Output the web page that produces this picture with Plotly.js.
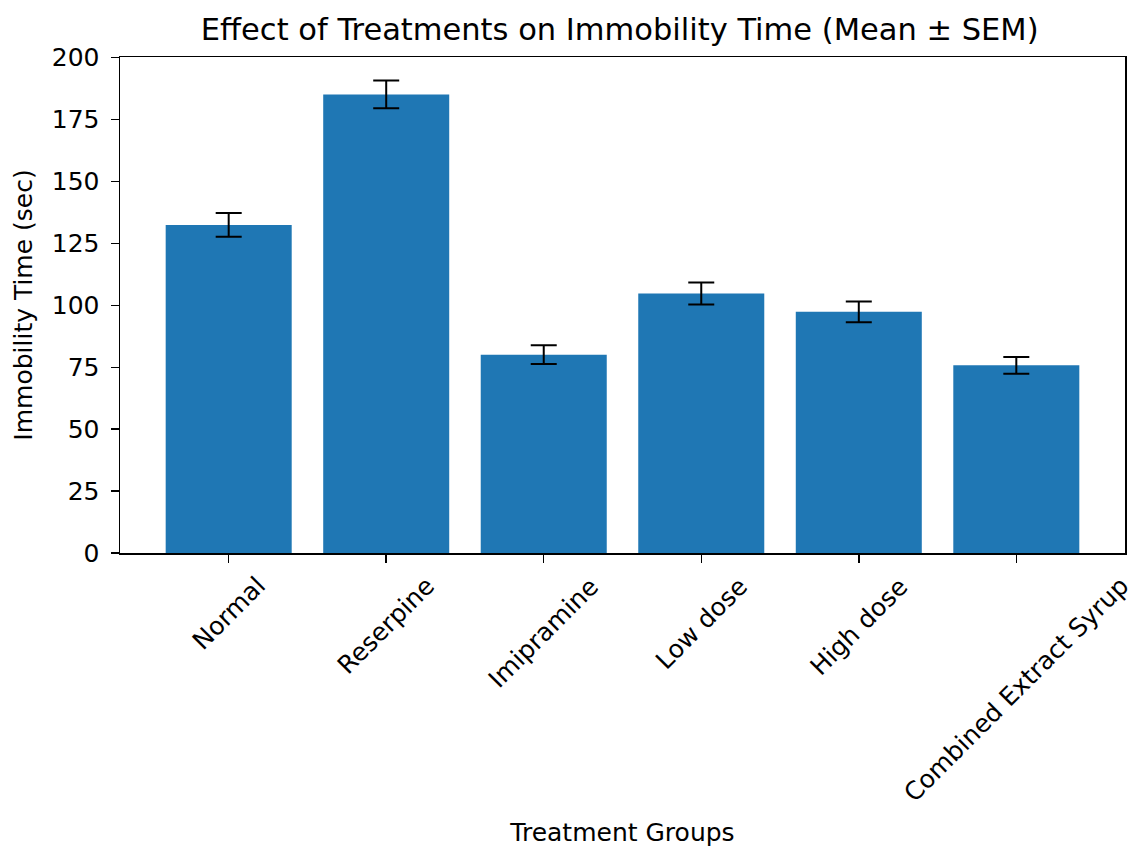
<!DOCTYPE html>
<html>
<head>
<meta charset="utf-8">
<script src="https://cdn.plot.ly/plotly-3.0.1.min.js"></script>
<style>html,body{margin:0;padding:0;background:#fff;}#chart{width:1136px;height:847px;}</style>
</head>
<body>
<div id="chart"></div>
<script>
const groups = ["Normal", "Reserpine", "Imipramine", "Low dose", "High dose", "Combined Extract Syrup"];
const meanValues = [132.5, 185.2, 80.1, 104.8, 97.4, 75.8];
const semValues = [4.8, 5.6, 3.8, 4.4, 4.2, 3.4];
const yTicks = [0, 25, 50, 75, 100, 125, 150, 175, 200];

const font = "DejaVu Sans, sans-serif";
const tickSize = 25;
const trace = {
  type: "bar",
  x: groups,
  y: meanValues,
  width: 0.8,
  marker: {color: "#1f77b4", line: {width: 0}},
  error_y: {type: "data", array: semValues, visible: true, color: "#000000", thickness: 2, width: 13}
};
// rotated category labels, centred on each tick like the reference
const labelAnnotations = groups.map(g => ({
  x: g, xref: "x", y: -0.032, yref: "paper",
  text: g, showarrow: false, textangle: -45,
  xanchor: "center", yanchor: "top",
  font: {family: font, size: tickSize, color: "#000"}
}));
const layout = {
  width: 1136, height: 847,
  margin: {l: 120, r: 11, t: 57, b: 294},
  paper_bgcolor: "#fff", plot_bgcolor: "#fff",
  showlegend: false,
  font: {family: font, color: "#000", size: tickSize},
  title: {text: "Effect of Treatments on Immobility Time (Mean ± SEM)", font: {family: font, size: 30.5, color: "#000"}, x: 0.5455, xanchor: "center", y: 0.965, yanchor: "middle"},
  xaxis: {
    range: [-0.69, 5.69], showline: true, linecolor: "#000", linewidth: 1.5, mirror: true,
    ticks: "outside", ticklen: 8, tickwidth: 1.5, tickcolor: "#000",
    showticklabels: false,
    title: {text: "Treatment Groups", font: {family: font, size: tickSize, color: "#000"}, standoff: 265},
    showgrid: false, zeroline: false, fixedrange: true
  },
  yaxis: {
    range: [0, 200.3], tickvals: yTicks, ticktext: yTicks.map(String),
    showline: true, linecolor: "#000", linewidth: 1.5, mirror: true,
    ticks: "outside", ticklen: 8, tickwidth: 1.5, tickcolor: "#000",
    ticklabelstandoff: 6,
    tickfont: {family: font, size: tickSize, color: "#000"},
    title: {text: "Immobility Time (sec)", font: {family: font, size: tickSize, color: "#000"}, standoff: 12},
    showgrid: false, zeroline: false, fixedrange: true
  },
  annotations: labelAnnotations
};
Plotly.newPlot("chart", [trace], layout, {displayModeBar: false, staticPlot: true});
</script>
</body>
</html>
